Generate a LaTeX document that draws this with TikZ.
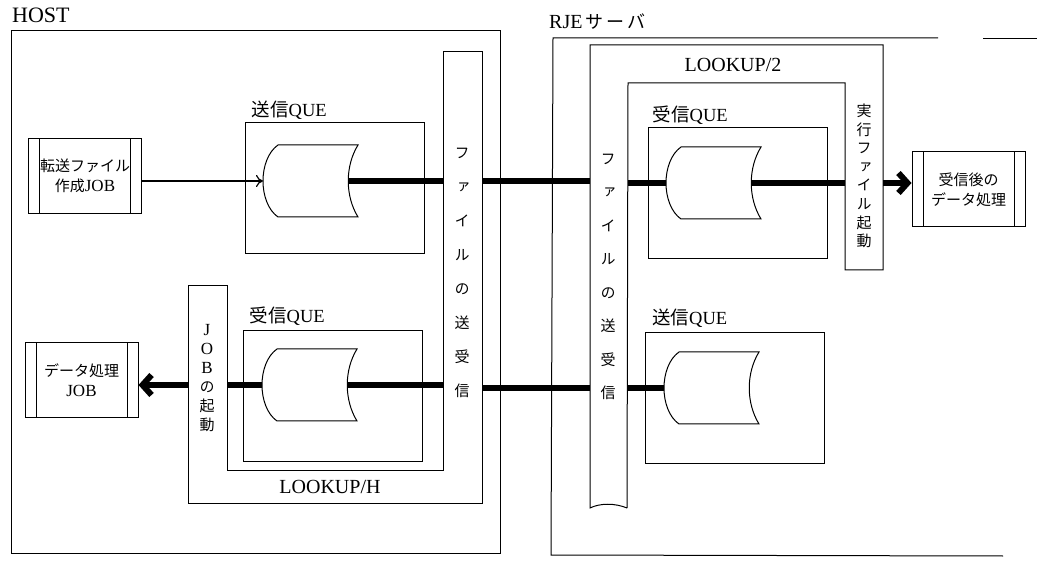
\documentclass[tikz,border=0pt]{standalone}
\usepackage{fontspec}
\setmainfont{Liberation Serif}
\newfontfamily\jp{Noto Sans CJK JP}
\newfontfamily\jpv[RawFeature=+vert]{Noto Sans CJK JP}
\usetikzlibrary{arrows.meta}
\tikzset{
    frame/.style = {draw, line width=1pt},
    que-box/.style = {draw, line width=1pt, minimum width=179pt, minimum height=131pt, inner sep=0pt},
    que-title/.style = {anchor=base west, inner sep=0pt, font=\fontsize{18.5}{18.5}\selectfont},
    job-box/.style = {draw, line width=1pt, minimum width=113pt, minimum height=75pt, inner sep=0pt, align=center,
        font=\jp\fontsize{15}{20}\selectfont,
        path picture={\draw[line width=1pt]
            ([xshift=11pt]path picture bounding box.north west) -- ([xshift=11pt]path picture bounding box.south west)
            ([xshift=-11pt]path picture bounding box.north east) -- ([xshift=-11pt]path picture bounding box.south east);}},
    vtext/.style = {align=center, inner sep=0pt},
    big-title/.style = {inner sep=0pt, font=\fontsize{20}{20}\selectfont},
    data-line/.style = {line width=6pt},
    data-arrow/.style = {data-line, -{Straight Barb[length=9pt, width=20pt]}},
    job-arrow/.style = {line width=1.2pt, -{Computer Modern Rightarrow[length=7pt, width=12pt]}},
    pics/que-drum/.style = {code={
        \draw[line width=1pt, fill=white] (-32,-36) -- (48,-36) .. controls (35,-15) and (35,15) .. (48,36)
            -- (-32,36) .. controls (-52,22) and (-52,-22) .. (-32,-36) -- cycle;
        \coordinate (-in) at (-47,0);
        \coordinate (-out) at (38,0);
    }},
}

\begin{document}
\begin{tikzpicture}[x=1pt, y=-1pt]
\useasboundingbox (0,0) rectangle (1037,561);

% HOST side
\node[big-title, anchor=base west, font=\fontsize{22}{22}\selectfont] (host-t) at (12,23) {HOST};
\draw[frame] (11,31) rectangle (500,553);
% LOOKUP/H
\draw[frame] (188,286) -- (227,286) -- (227,470) -- (443,470) -- (443,52) -- (482,52) -- (482,503) -- (188,503) -- cycle;
\coordinate (jbarW) at (188,0);
\coordinate (jbarE) at (227,0);
\coordinate (hbarW) at (443,0);
\coordinate (hbarE) at (482,0);
\node[vtext, font=\jpv\fontsize{15}{34}\selectfont] (hxfer) at (462,273) {フ\\ァ\\イ\\ル\\の\\送\\受\\信};
\node[vtext, font=\fontsize{17}{19}\selectfont] (jstart) at (207,378) {J\\O\\B\\{\jpv\fontsize{15}{19}\selectfont の}\\{\jpv\fontsize{15}{19}\selectfont 起}\\{\jpv\fontsize{15}{19}\selectfont 動}};
\node[big-title] (lookh) at (330,487) {LOOKUP/H};

\node[job-box] (mkjob) at (85,176) {転送ファイル\\作成{\rmfamily\fontsize{17}{20}\selectfont JOB}};
\node[job-box] (datajob) at (81.5,380.5) {データ処理\\{\rmfamily\fontsize{17}{20}\selectfont JOB}};

\node[que-box] (hsend) at (334.5,188.5) {};
\node[que-title] (hsend-t) at ([xshift=7pt, yshift=6pt]hsend.north west) {{\jp 送信}QUE};
\pic (hsendq) at (310,181) {que-drum};

\node[que-box] (hrecv) at (332.5,396) {};
\node[que-title] (hrecv-t) at ([xshift=7pt, yshift=7pt]hrecv.north west) {{\jp 受信}QUE};
\pic (hrecvq) at (309,385) {que-drum};

% RJE side
\node[big-title, anchor=base west] (rje-t) at (549,29) {RJE{\jp\fontsize{18}{18}\selectfont\,サ\,ー\,バ}};
\draw[frame] (938,38) -- (553,38) -- (551,555) -- (1003,556);
\draw[frame] (983,39) -- (1037,39);
% LOOKUP/2
\draw[frame] (627,508) -- (628,83) -- (845,83) -- (845,270) -- (883,270) -- (883,45) -- (590,45) -- (590,508)
    .. controls (600,503) and (615,503) .. (627,508);
\coordinate (rbarW) at (590,0);
\coordinate (rbarE) at (628,0);
\coordinate (xbarW) at (845,0);
\coordinate (xbarE) at (883,0);
\node[vtext, font=\jpv\fontsize{15}{33.5}\selectfont] (rxfer) at (608,277) {フ\\ァ\\イ\\ル\\の\\送\\受\\信};
\node[vtext, font=\jpv\fontsize{15}{18.6}\selectfont] (exec) at (864,176) {実\\行\\フ\\ァ\\イ\\ル\\起\\動};
\node[big-title] (look2) at (733,65) {LOOKUP/2};

\node[que-box] (rrecv) at (737.5,193.5) {};
\node[que-title] (rrecv-t) at ([xshift=5pt, yshift=6pt]rrecv.north west) {{\jp 受信}QUE};
\pic (rrecvq) at (713,183) {que-drum};

\node[que-box] (rsend) at (735,398) {};
\node[que-title] (rsend-t) at ([xshift=7pt, yshift=7pt]rsend.north west) {{\jp 送信}QUE};
\pic (rsendq) at (711,388) {que-drum};

\node[job-box] (afterjob) at (968.5,189.5) {受信後の\\データ処理};

% flows
\draw[job-arrow] (mkjob.east |- hsendq-in) -- (hsendq-in);
\draw[data-line] (hsendq-out) -- (hsendq-out -| hbarW);
\draw[data-line] (hsendq-out -| hbarE) -- (hsendq-out -| rbarW);
\draw[data-line] (rrecvq-in -| rbarE) -- (rrecvq-in);
\draw[data-line] (rrecvq-out) -- (rrecvq-out -| xbarW);
\draw[data-arrow] (rrecvq-out -| xbarE) -- (afterjob.west |- rrecvq-out);

\draw[data-line] (rsendq-in) -- (rsendq-in -| rbarE);
\draw[data-line] (rsendq-in -| rbarW) -- (rsendq-in -| hbarE);
\draw[data-line] (hrecvq-out -| hbarW) -- (hrecvq-out);
\draw[data-line] (hrecvq-in) -- (hrecvq-in -| jbarE);
\draw[data-arrow] (hrecvq-in -| jbarW) -- (datajob.east |- hrecvq-in);
\end{tikzpicture}
\end{document}
